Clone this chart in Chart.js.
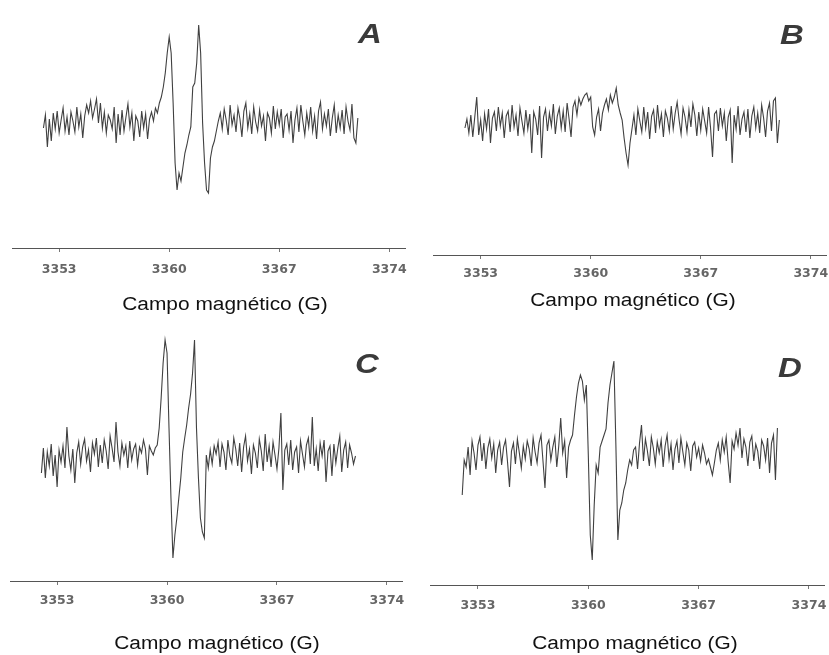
<!DOCTYPE html>
<html>
<head>
<meta charset="utf-8">
<script src="https://cdn.jsdelivr.net/npm/chart.js@4/dist/chart.umd.min.js"></script>
<style>
  html, body { margin: 0; padding: 0; background: #ffffff; }
  #wrap { position: relative; width: 829px; height: 655px; background: #ffffff; overflow: hidden; }
  canvas { position: absolute; }
  .xtitle { position: absolute; width: 320px; text-align: center; font-family: 'Liberation Sans', Arial, sans-serif;
            font-size: 18px; line-height: 18px; color: #111; transform: translate(-50%, -50%) scaleX(1.16); white-space: nowrap; }
  .letter { position: absolute; font-family: 'Liberation Sans', Arial, sans-serif; font-weight: bold; font-style: italic;
            font-size: 27px; line-height: 27px; color: #3a3a3a; transform: translate(-50%, -50%) scaleX(1.22); }
</style>
</head>
<body>
<div id="wrap">
  <canvas id="cA" width="415" height="325" style="left:0px;top:0px"></canvas>
  <canvas id="cB" width="414" height="325" style="left:415px;top:0px"></canvas>
  <canvas id="cC" width="415" height="330" style="left:0px;top:325px"></canvas>
  <canvas id="cD" width="414" height="330" style="left:415px;top:325px"></canvas>
  <div class="letter" style="left:370px;top:34px">A</div>
  <div class="letter" style="left:792px;top:35px">B</div>
  <div class="letter" style="left:367px;top:364px">C</div>
  <div class="letter" style="left:790px;top:368px">D</div>
  <div class="xtitle" style="left:225px;top:304px">Campo magnético (G)</div>
  <div class="xtitle" style="left:633px;top:300px">Campo magnético (G)</div>
  <div class="xtitle" style="left:217px;top:643px">Campo magnético (G)</div>
  <div class="xtitle" style="left:635px;top:643px">Campo magnético (G)</div>
</div>
<script>
// ---- data ----
const fieldStart = 3352.0;   // G, first sample
const fieldStep = 0.125;     // G between samples
const fieldTicks = [3353, 3360, 3367, 3374];
const tickLabels = ['3353', '3360', '3367', '3374'];

// EPR signal amplitude (arbitrary units, baseline = 0)
const specA = [
  -5, 8, -24, 4, -18, 10, -6, 12, -10, 3,
  15, -8, 6, -12, 11, 2, -9, 16, -4, 9,
  -15, 7, 18, 10, 22, 5, 14, 24, 0, 20,
  -5, 11, -10, 8, 3, -6, 16, -20, 9, -12,
  13, -8, 6, 19, -4, 10, -18, 7, 2, -14,
  12, -5, 9, -16, 4, 11, 2, 15, 10, 20,
  26, 36, 50, 70, 86, 70, 20, -40, -67, -50,
  -58, -44, -30, -22, -12, -4, 36, 40, 60, 98,
  70, 0, -40, -67, -70, -35, -24, -18, -8, 2,
  10, -6, 14, 3, -12, 18, -2, 8, -9, 15,
  4, -14, 12, 20, -5, 9, -11, 16, 1, -8,
  13, -3, 7, -18, 10, 5, -10, 17, -6, 11,
  -2, 14, -15, 6, 9, -7, 12, -20, 3, 15,
  -9, 18, 2, -12, 10, -4, 16, -8, 7, -16,
  12, 21, -6, 9, -3, 14, -13, 5, 18, -10,
  8, -5, 13, -11, 16, 2, -7, 19, -15, -20, 5
];
const specB = [
  -5, 4, -10, 8, -14, 6, 26, -12, 3, -18,
  9, -6, 14, -20, 5, 11, -8, 16, -3, 10,
  -15, 7, 12, -9, 18, -4, 8, -13, 15, 2,
  -10, 13, -6, 9, -30, 11, 4, -12, 17, -35,
  6, 14, -8, 10, -3, 19, -11, 7, 15, -5,
  12, -9, 20, 4, -14, 16, 22, 8, 25, 18,
  24, 28, 30, 22, 26, -4, -12, 6, 14, -8,
  10, 18, 24, 13, 28, 20, 26, 35, 18, 10,
  3, -15, -30, -42, -20, -6, 8, -12, 14, 2,
  -9, 16, -5, 11, -16, 7, 13, -10, 18, -3,
  9, -14, 12, 5, -8, 17, -6, 10, 21, 3,
  -11, 15, 6, -9, 13, -4, 19, 8, -13, 11,
  -7, 14, 2, -10, 16, -5, -34, 9, 12, -8,
  15, -3, 10, -18, 6, 13, -40, 8, -6, 17,
  -12, 4, 11, -9, 14, -15, 7, 16, -5, 10,
  -10, 18, 5, -14, 12, 20, -8, 22, 25, -20, 3
];
const specC = [
  -15, 10, -20, 6, -8, 14, -18, 3, -29, 8,
  -4, 12, -10, 31, 2, -12, 9, -25, 5, 16,
  -6, 11, 19, -3, 8, -14, 15, 4, 20, -9,
  13, -5, 18, 7, -11, 22, 10, -4, 36, 6,
  -8, 15, 3, 12, -10, 17, -2, 9, 14, -7,
  11, 5, 18, 9, -17, 12, 7, 3, 10, 13,
  30, 60, 95, 118, 105, 30, -40, -100, -77, -60,
  -40, -20, 6, 20, 33, 50, 64, 85, 118, 30,
  -20, -60, -74, -80, 3, -10, 8, -6, 12, 4,
  16, -9, 14, 6, -12, 18, 2, -5, 20, 9,
  -8, 15, -14, 11, 22, -3, 9, -16, 13, 5,
  -10, 19, 7, -13, 24, -4, 12, -9, 16, 3,
  -11, 10, 45, -32, 8, 14, -7, 18, -12, 6,
  11, -15, 17, 4, -9, 13, 20, -6, 41, -8,
  9, -13, 15, 2, 18, -24, 7, 12, -18, 14,
  -5, 10, 22, -14, 8, 16, -10, 13, 5, -6, 2
];
const specD = [
  -40, -5, -12, 8, -20, 14, 2, -15, 10, 18,
  -6, 12, -14, 7, 16, -3, 11, -18, 5, 13,
  -10, 8, 15, -7, -32, 4, 12, -9, 16, 2,
  -13, 9, -4, 14, 6, -11, 17, 3, -8, 12,
  20, -6, -33, 10, 15, -5, 8, 18, -12, 9,
  37, 2, 14, -23, 8, 15, 20, 40, 58, 72,
  80, 74, 55, 70, 0, -80, -105, -50, -10, -18,
  8, 14, 20, 26, 52, 70, 82, 94, 10, -85,
  -55, -48, -35, -28, -15, -5, -10, 5, 8, -14,
  12, 30, -6, 16, 4, -11, 18, 7, -9, 13,
  2, 15, -12, 9, 20, -4, 11, -15, 6, 14,
  -8, 17, 3, -10, 12, 5, -16, 9, 13, -2,
  7, -6, 10, 2, -9, -4, -12, -20, -8, 5,
  12, -5, 15, 3, 18, -7, -28, 14, 6, 22,
  10, 27, -3, 16, 8, -11, 13, 19, -6, 11,
  4, -14, 15, 9, -5, 17, -18, 12, 20, -25, 27
];

// ---- layout / style (not data) ----
const panels = [
  { canvas: 'cA', values: specA, pad: { left: 12, right: 10, top: 10, bottom: 0 }, axisH: 77, yMin: -125, yMax: 113, tickPad: 10 },
  { canvas: 'cB', values: specB, pad: { left: 18.5, right: 2.5, top: 10, bottom: 0 }, axisH: 70, yMin: -132, yMax: 113, tickPad: 7 },
  { canvas: 'cC', values: specC, pad: { left: 10, right: 12.4, top: 10, bottom: 0 }, axisH: 74, yMin: -123, yMax: 123, tickPad: 8 },
  { canvas: 'cD', values: specD, pad: { left: 15.7, right: 4.3, top: 10, bottom: 0 }, axisH: 70, yMin: -130, yMax: 120, tickPad: 9 }
];

panels.forEach(p => {
  const pts = p.values.map((v, i) => ({ x: fieldStart + i * fieldStep, y: v }));
  new Chart(document.getElementById(p.canvas), {
    type: 'line',
    data: { datasets: [{ data: pts, borderColor: '#404040', borderWidth: 1.1, pointRadius: 0, tension: 0, fill: false }] },
    options: {
      responsive: false,
      animation: false,
      layout: { padding: p.pad },
      plugins: { legend: { display: false }, tooltip: { enabled: false }, title: { display: false } },
      scales: {
        x: {
          type: 'linear', min: 3350, max: 3375, position: 'bottom',
          afterBuildTicks: s => { s.ticks = fieldTicks.map(v => ({ value: v })); },
          afterFit: s => { s.height = p.axisH; s.paddingLeft = 0; s.paddingRight = 0; },
          grid: { display: true, drawOnChartArea: false, drawTicks: true, tickLength: 4, color: '#777' },
          border: { display: true, color: '#555', width: 1 },
          ticks: {
            autoSkip: false, maxRotation: 0, padding: p.tickPad, color: '#666',
            font: { family: 'DejaVu Sans', weight: 'bold', size: 12.5 },
            callback: (v, idx) => tickLabels[idx]
          }
        },
        y: { display: false, min: p.yMin, max: p.yMax }
      }
    }
  });
});
</script>
</body>
</html>
